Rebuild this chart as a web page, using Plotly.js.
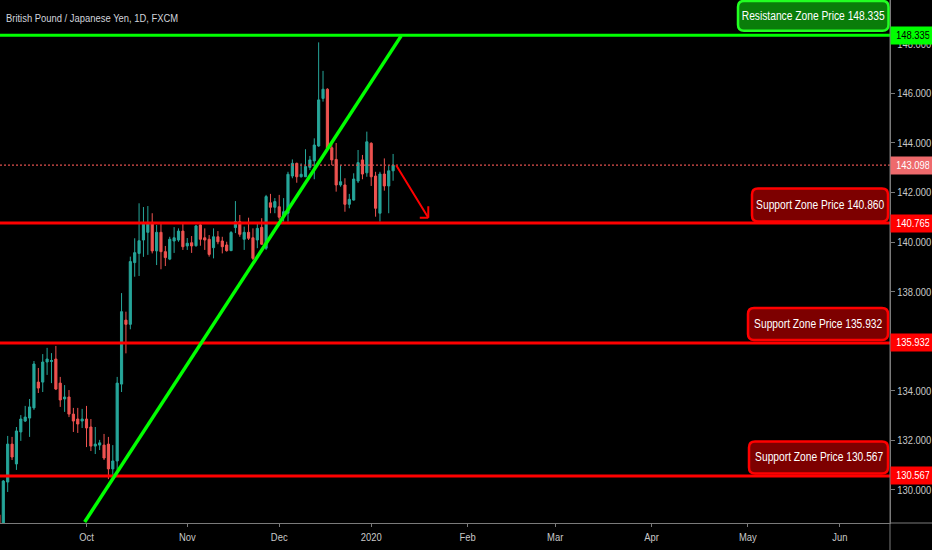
<!DOCTYPE html>
<html><head><meta charset="utf-8">
<script src="https://cdn.plot.ly/plotly-3.0.1.min.js"></script>
<style>html,body{margin:0;padding:0;background:#000;}#chart{width:932px;height:550px;}</style>
</head><body><div id="chart"></div>
<script>
// ---------- data ----------
const dates = [
'2019-09-03','2019-09-04','2019-09-05','2019-09-06','2019-09-09','2019-09-10','2019-09-11','2019-09-12','2019-09-13',
'2019-09-16','2019-09-17','2019-09-18','2019-09-19','2019-09-20','2019-09-23','2019-09-24','2019-09-25','2019-09-26','2019-09-27','2019-09-30',
'2019-10-01','2019-10-02','2019-10-03','2019-10-04','2019-10-07','2019-10-08','2019-10-09','2019-10-10','2019-10-11',
'2019-10-14','2019-10-15','2019-10-16','2019-10-17','2019-10-18','2019-10-21','2019-10-22','2019-10-23','2019-10-24','2019-10-25',
'2019-10-28','2019-10-29','2019-10-30','2019-10-31',
'2019-11-01','2019-11-04','2019-11-05','2019-11-06','2019-11-07','2019-11-08','2019-11-11','2019-11-12','2019-11-13','2019-11-14','2019-11-15',
'2019-11-18','2019-11-19','2019-11-20','2019-11-21','2019-11-22','2019-11-25','2019-11-26','2019-11-27','2019-11-28','2019-11-29',
'2019-12-02','2019-12-03','2019-12-04','2019-12-05','2019-12-06','2019-12-09','2019-12-10','2019-12-11','2019-12-12','2019-12-13',
'2019-12-16','2019-12-17','2019-12-18','2019-12-19','2019-12-20','2019-12-23','2019-12-24','2019-12-26','2019-12-27','2019-12-30','2019-12-31',
'2020-01-02','2020-01-03','2020-01-06','2020-01-07','2020-01-08','2020-01-09'];
const open = [
129.00,128.40,130.32,131.85,131.05,132.34,132.78,132.90,133.31,
134.35,134.35,135.16,135.18,135.28,134.31,133.67,133.75,133.06,132.86,132.78,
132.86,132.54,131.77,131.81,131.81,131.85,130.85,131.17,134.27,
136.85,136.68,139.17,139.54,140.08,140.39,140.79,139.64,140.39,139.61,
139.31,140.04,140.08,140.44,
139.84,139.97,139.85,140.69,140.17,140.11,139.77,140.21,140.04,139.88,139.65,
140.58,140.82,140.11,140.39,140.17,140.08,140.59,139.75,141.58,141.40,
141.42,141.02,141.16,142.66,143.17,142.63,142.63,143.01,143.27,143.87,
145.79,146.16,143.80,143.33,142.30,142.30,141.52,141.69,142.46,143.31,142.79,
143.98,142.66,141.16,142.74,142.26,142.87];
const high = [
129.12,130.40,132.18,132.14,132.54,133.02,133.39,133.67,135.20,
134.92,135.48,135.73,135.52,135.81,134.56,134.23,134.03,133.31,133.31,133.27,
133.39,132.86,132.54,132.02,132.26,132.14,131.81,134.56,137.94,
137.19,139.41,140.15,141.56,141.41,141.45,141.16,140.69,140.79,139.84,
140.21,140.60,140.55,140.75,
140.16,140.24,140.69,140.79,140.55,140.28,140.55,140.44,140.21,140.01,140.44,
141.65,141.09,140.62,140.98,140.55,140.75,140.96,141.90,141.94,141.77,
141.90,141.77,142.83,143.33,143.20,143.17,143.74,143.47,144.18,148.05,
146.90,146.20,143.98,143.99,143.10,142.57,141.94,142.77,143.71,143.51,144.45,
144.02,142.83,142.83,143.37,143.10,143.55];
const low = [
128.10,128.20,129.92,131.21,130.81,131.98,132.74,132.14,133.23,
133.91,133.95,134.64,134.31,134.03,133.35,133.15,132.94,132.34,132.30,132.50,
131.73,131.57,131.45,131.61,131.21,130.44,130.52,130.81,133.95,
135.51,136.48,138.60,138.63,139.40,139.48,139.54,139.07,138.90,139.03,
139.27,139.56,140.01,139.68,
139.68,139.56,139.81,139.85,139.68,139.41,139.34,139.91,139.54,139.61,139.64,
140.36,140.21,139.68,140.08,139.27,139.75,139.88,139.68,141.16,141.16,
140.89,140.82,140.82,142.57,142.39,142.60,142.62,142.90,142.53,143.84,
145.66,143.71,143.10,142.03,142.23,141.22,141.36,141.67,142.38,142.53,142.63,
142.26,141.02,140.82,142.07,141.16,142.47];
const close = [
128.40,130.36,131.85,131.33,132.38,132.86,132.94,133.35,135.08,
134.11,135.16,135.28,135.22,134.07,133.63,133.75,133.06,132.78,132.66,132.86,
132.50,131.77,131.85,131.90,131.29,130.85,131.17,134.31,137.19,
136.68,139.21,139.57,140.05,140.79,140.79,139.64,140.39,139.61,139.37,
140.11,140.17,140.44,139.81,
139.95,139.84,140.65,140.11,140.08,139.50,140.21,140.01,139.81,139.65,140.38,
140.82,140.31,140.39,140.15,139.34,140.55,139.91,141.83,141.40,141.63,
141.00,141.22,142.73,143.17,142.63,142.73,143.04,143.31,143.91,145.73,
146.16,143.78,143.31,142.30,142.43,141.52,141.72,142.54,143.20,142.74,144.04,
142.63,141.36,142.74,142.26,142.87,143.098];

const monthTickDates = ['2019-10-01','2019-11-01','2019-12-02','2020-01-02','2020-02-03','2020-03-02','2020-04-01','2020-05-01','2020-06-01'];
const monthTickLabels = ['Oct','Nov','Dec','2020','Feb','Mar','Apr','May','Jun'];
const holidays = ['2019-12-25','2020-01-01'];
const viewRange = ['2019-09-03 17:55','2020-06-16 22:48'];
const priceRange = [128.669, 149.758];
const priceTicks = [130,132,134,136,138,140,142,144,146,148];

const resistanceLevel = 148.335;
const supportLevels = [140.765, 135.932, 130.567];
const lastPrice = 143.098;
const zoneLabels = ['Resistance Zone Price 148.335','Support Zone Price 140.860','Support Zone Price 135.932','Support Zone Price 130.567'];
const zoneLevels = [148.335, 140.765, 135.932, 130.567];
const trendDates = ['2019-10-01 01:55','2020-01-13 08:10'];
const trendPrices = [128.71, 148.31];
const arrowTipDate = '2020-01-21 12:45';
const arrowTipPrice = 140.98;

// ---------- styles ----------
const FONT = '"Liberation Sans", Arial, sans-serif';
const CONDENSE = 0.82;
const UP = '#26a69a', DOWN = '#ef5350';
const LIME = '#00ff00', RED = '#ff0000';
const AXIS = '#7a7a7a';

const trace = {
  type: 'candlestick',
  x: dates.map(d => d + ' 12:00'),
  open: open, high: high, low: low, close: close,
  increasing: {line: {color: UP, width: 1}, fillcolor: UP},
  decreasing: {line: {color: DOWN, width: 1}, fillcolor: DOWN},
  whiskerwidth: 0,
  hoverinfo: 'skip'
};

function rr(x0, y0, x1, y1, r) {
  return 'M' + (x0 + r) + ',' + y0 + ' L' + (x1 - r) + ',' + y0 + ' Q' + x1 + ',' + y0 + ' ' + x1 + ',' + (y0 + r) +
    ' L' + x1 + ',' + (y1 - r) + ' Q' + x1 + ',' + y1 + ' ' + (x1 - r) + ',' + y1 +
    ' L' + (x0 + r) + ',' + y1 + ' Q' + x0 + ',' + y1 + ' ' + x0 + ',' + (y1 - r) +
    ' L' + x0 + ',' + (y0 + r) + ' Q' + x0 + ',' + y0 + ' ' + (x0 + r) + ',' + y0 + ' Z';
}

const shapes = [];
shapes.push({type: 'line', xref: 'paper', x0: 0, x1: 1, yref: 'y', y0: resistanceLevel, y1: resistanceLevel, line: {color: LIME, width: 3}});
supportLevels.forEach(v => shapes.push({type: 'line', xref: 'paper', x0: 0, x1: 1, yref: 'y', y0: v, y1: v, line: {color: RED, width: 3}}));
shapes.push({type: 'line', xref: 'paper', x0: 0, x1: 1, yref: 'y', y0: lastPrice, y1: lastPrice, line: {color: '#e0504e', width: 1.2, dash: '2px,2px'}});
shapes.push({type: 'line', xref: 'x', yref: 'y', x0: trendDates[0], x1: trendDates[1], y0: trendPrices[0], y1: trendPrices[1], line: {color: LIME, width: 3.5}});
shapes.push({type: 'line', xref: 'paper', yref: 'paper', x0: 1, x1: 932 / 890, y0: 0, y1: 0, line: {color: AXIS, width: 1}});
shapes.push({type: 'line', xref: 'paper', yref: 'paper', x0: 1, x1: 1, y0: -27 / 523, y1: 1, line: {color: AXIS, width: 1}});

const boxGeom = [
  {x0: -152, x1: -1.5, y0: 4.5, y1: 34.3, fill: '#0a7d0a', border: '#22ff22'},
  {x0: -138, x1: -2, y0: 1.5, y1: 34.5, fill: '#7d0000', border: RED},
  {x0: -142, x1: -2, y0: 3, y1: 35, fill: '#7d0000', border: RED},
  {x0: -141, x1: -2, y0: 2.5, y1: 34.5, fill: '#7d0000', border: RED}
];
const annotations = [];
zoneLabels.forEach((t, i) => {
  const g = boxGeom[i];
  shapes.push({type: 'path', xref: 'paper', yref: 'y', xsizemode: 'pixel', ysizemode: 'pixel',
    xanchor: 1, yanchor: zoneLevels[i], path: rr(g.x0, g.y0, g.x1, g.y1, 6),
    fillcolor: g.fill, line: {color: g.border, width: 2.5}, layer: 'above'});
  annotations.push({xref: 'paper', x: 1, xanchor: 'center', xshift: (g.x0 + g.x1) / 2,
    yref: 'y', y: zoneLevels[i], yanchor: 'middle', yshift: (g.y0 + g.y1) / 2,
    text: t, showarrow: false, font: {family: FONT, size: 12.5, color: '#ffffff'}});
});

const tagLevels = [resistanceLevel, lastPrice].concat(supportLevels);
const tagBg = ['#00ff00', '#ee6a6c', RED, RED, RED];
const tagFg = ['#000000', '#ffffff', '#ffffff', '#ffffff', '#ffffff'];
tagLevels.forEach((v, i) => {
  annotations.push({xref: 'paper', x: 1, xanchor: 'left', xshift: 0, yref: 'y', y: v, yanchor: 'middle',
    text: v.toFixed(3), showarrow: false, bgcolor: tagBg[i], width: 40, height: 13, borderpad: 2,
    align: 'center', font: {family: FONT, size: 11.5, color: tagFg[i]}});
});

annotations.push({x: arrowTipDate, y: arrowTipPrice, xref: 'x', yref: 'y', ax: -33, ay: -54, text: '', showarrow: true,
  arrowhead: 0, arrowwidth: 2, arrowcolor: RED, standoff: 0, startstandoff: 0});
annotations.push({x: arrowTipDate, y: arrowTipPrice, xref: 'x', yref: 'y', ax: 0, ay: -13, text: '', showarrow: true,
  arrowhead: 0, arrowwidth: 2, arrowcolor: RED, standoff: 0, startstandoff: 0});
annotations.push({x: arrowTipDate, y: arrowTipPrice, xref: 'x', yref: 'y', ax: -10, ay: 0, text: '', showarrow: true,
  arrowhead: 0, arrowwidth: 2, arrowcolor: RED, standoff: 0, startstandoff: 0});

const layout = {
  width: 932, height: 550,
  paper_bgcolor: '#000000', plot_bgcolor: '#000000',
  margin: {l: 0, r: 42, t: 0, b: 27, pad: 0},
  showlegend: false,
  title: {text: 'British Pound / Japanese Yen, 1D, FXCM', xref: 'container', yref: 'container',
    x: 6 / 932, xanchor: 'left', y: 1 - 18 / 550, yanchor: 'middle',
    font: {family: FONT, size: 11.5, color: '#d1d4dc'}},
  xaxis: {
    type: 'date', range: viewRange,
    rangebreaks: [{bounds: ['sat', 'mon']}, {values: holidays}],
    rangeslider: {visible: false},
    tickmode: 'array', tickvals: monthTickDates.map(d => d + ' 12:00'), ticktext: monthTickLabels,
    ticks: 'outside', ticklen: 3, tickcolor: AXIS,
    showgrid: false, zeroline: false, showline: true, linecolor: AXIS, linewidth: 1,
    tickfont: {family: FONT, size: 11.5, color: '#c8c8c8'}, fixedrange: true
  },
  yaxis: {
    side: 'right', range: priceRange,
    tickmode: 'array', tickvals: priceTicks, tickformat: '.3f',
    ticks: 'outside', ticklen: 4, tickcolor: AXIS,
    showgrid: false, zeroline: false, showline: true, linecolor: AXIS, linewidth: 1,
    tickfont: {family: FONT, size: 11.5, color: '#c8c8c8'}, fixedrange: true
  },
  shapes: shapes,
  annotations: annotations
};

// narrow the text horizontally (the source uses a condensed face)
function condense(gd) {
  gd.querySelectorAll('svg text').forEach(t => {
    let bb;
    try { bb = t.getBBox(); } catch (e) { return; }
    if (!bb || !bb.width) return;
    const anchor = t.getAttribute('text-anchor') || window.getComputedStyle(t).textAnchor || 'start';
    const ax = anchor === 'middle' ? bb.x + bb.width / 2 : (anchor === 'end' ? bb.x + bb.width : bb.x);
    const prev = t.getAttribute('transform') || '';
    t.setAttribute('transform', (prev + ' translate(' + ax + ',0) scale(' + CONDENSE + ',1) translate(' + (-ax) + ',0)').trim());
  });
}

Plotly.newPlot('chart', [trace], layout, {displayModeBar: false, staticPlot: true}).then(condense);
</script>
</body></html>
